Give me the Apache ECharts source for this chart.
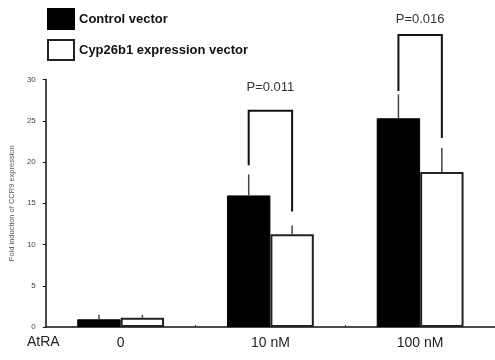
<!DOCTYPE html>
<html lang="en">
<head>
  <meta charset="UTF-8">
  <title>CCR9 induction</title>
  <script src="https://cdn.jsdelivr.net/npm/echarts@6/dist/echarts.min.js"></script>
  <style>
    * { margin: 0; padding: 0; box-sizing: border-box; }
    body { background: #fff; }
    #chart { width: 495px; height: 360px; }
  </style>
</head>
<body>
  <div id="chart"></div>
  <script>
    // values
    const categories = ['0', '10 nM', '100 nM'];
    const controlValues = [0.93, 15.95, 25.3];
    const cypValues = [1.12, 11.25, 18.8];
    const controlErr = [0.57, 2.55, 2.9];
    const cypErr = [0.33, 1.05, 2.9];
    // significance brackets: [category, top, left leg end, right leg end, label y]
    const bracketCats = [1, 2];
    const bracketTop = [26.2, 35.4];
    const bracketLeftEnd = [19.6, 28.6];
    const bracketRightEnd = [14.0, 22.9];
    const bracketLabelY = [29.0, 37.3];
    const pLabels = ['P=0.011', 'P=0.016'];

    const BAR_FRAC = 0.29;

    const errData = [];
    controlValues.forEach((v, i) => errData.push([i, v, controlErr[i], 0]));
    cypValues.forEach((v, i) => errData.push([i, v, cypErr[i], 1]));

    const bracketData = bracketCats.map((c, i) =>
      [c, bracketTop[i], bracketLeftEnd[i], bracketRightEnd[i], bracketLabelY[i], i]);

    const chart = echarts.init(document.getElementById('chart'));

    const option = {
      animation: false,
      textStyle: { fontFamily: 'Liberation Sans, Arial, sans-serif' },
      legend: {
        data: ['Control vector', 'Cyp26b1 expression vector'],
        orient: 'vertical',
        left: 47,
        top: 8,
        padding: 0,
        itemWidth: 26,
        itemHeight: 20,
        itemGap: 9,
        icon: 'rect',
        textStyle: { fontSize: 13, fontWeight: 'bold', color: '#111' }
      },
      grid: { left: 42, top: 79.5, width: 457, height: 247.5 },
      xAxis: {
        type: 'category',
        data: categories,
        axisLine: { lineStyle: { color: '#111', width: 1.5 } },
        axisTick: { show: true, inside: true, length: 2, lineStyle: { color: '#333' } },
        axisLabel: { fontSize: 14, color: '#222', margin: 9 }
      },
      yAxis: {
        type: 'value',
        min: 0,
        max: 30,
        interval: 5,
        name: 'Fold induction of CCR9 expression',
        nameLocation: 'middle',
        nameGap: 27,
        nameTextStyle: { fontSize: 7.5, color: '#555' },
        axisLine: { show: true, lineStyle: { color: '#111', width: 1.5 } },
        axisTick: { show: true, length: 3, lineStyle: { color: '#111' } },
        axisLabel: { fontSize: 8, color: '#444', margin: 10 },
        splitLine: { show: false }
      },
      series: [
        {
          name: 'Control vector',
          type: 'bar',
          data: controlValues,
          barWidth: (BAR_FRAC * 100) + '%',
          barGap: '0%',
          itemStyle: { color: '#000', borderColor: '#000', borderWidth: 1 }
        },
        {
          name: 'Cyp26b1 expression vector',
          type: 'bar',
          data: cypValues,
          barWidth: (BAR_FRAC * 100) + '%',
          barGap: '0%',
          itemStyle: { color: '#fff', borderColor: '#222', borderWidth: 2 }
        },
        {
          type: 'custom',
          clip: false,
          z: 3,
          data: errData,
          renderItem: function (params, api) {
            const cat = api.value(0);
            const band = api.size([1, 0])[0];
            const w = band * BAR_FRAC;
            const dx = api.value(3) === 0 ? -w / 2 : w / 2;
            const p0 = api.coord([cat, api.value(1)]);
            const p1 = api.coord([cat, api.value(1) + api.value(2)]);
            return {
              type: 'line',
              shape: { x1: p0[0] + dx, y1: p0[1], x2: p1[0] + dx, y2: p1[1] },
              style: { stroke: '#444', lineWidth: 1.5 }
            };
          }
        },
        {
          type: 'custom',
          clip: false,
          z: 3,
          data: bracketData,
          renderItem: function (params, api) {
            const cat = api.value(0);
            const band = api.size([1, 0])[0];
            const w = band * BAR_FRAC;
            const top = api.coord([cat, api.value(1)]);
            const lEnd = api.coord([cat, api.value(2)]);
            const rEnd = api.coord([cat, api.value(3)]);
            const lab = api.coord([cat, api.value(4)]);
            const xl = top[0] - w / 2;
            const xr = top[0] + w / 2;
            return {
              type: 'group',
              children: [
                {
                  type: 'polyline',
                  shape: { points: [[xl, lEnd[1]], [xl, top[1]], [xr, top[1]], [xr, rEnd[1]]] },
                  style: { stroke: '#111', lineWidth: 2, fill: null }
                },
                {
                  type: 'text',
                  style: {
                    x: top[0], y: lab[1],
                    text: pLabels[api.value(5)],
                    fill: '#333',
                    font: '13px Liberation Sans, Arial, sans-serif',
                    align: 'center',
                    verticalAlign: 'middle'
                  }
                }
              ]
            };
          }
        }
      ],
      graphic: [
        {
          type: 'text',
          left: 27,
          top: 335,
          style: { text: 'AtRA', fill: '#222', font: '14px Liberation Sans, Arial, sans-serif' }
        }
      ]
    };

    chart.setOption(option);
  </script>
</body>
</html>
